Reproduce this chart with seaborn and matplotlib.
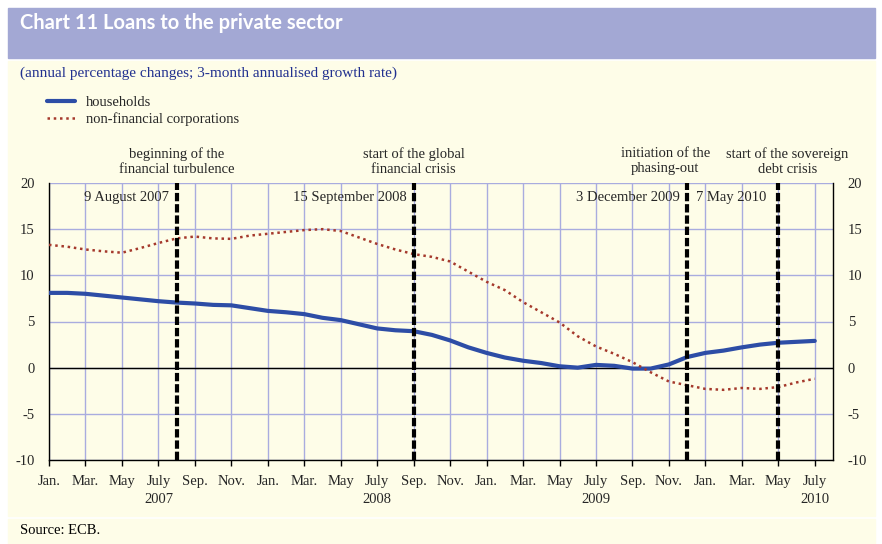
import pandas as pd
import numpy as np
import seaborn as sns
import matplotlib.pyplot as plt
from matplotlib.patches import Rectangle

# monthly observations, Jan 2007 - Jul 2010
months = pd.period_range('2007-01', '2010-07', freq='M')

households = [8.1, 8.1, 8.0, 7.8, 7.6, 7.4, 7.2, 7.05, 6.95, 6.8, 6.75, 6.45,
              6.15, 6.0, 5.8, 5.4, 5.15, 4.7, 4.25, 4.05, 3.95, 3.55, 2.95, 2.2,
              1.6, 1.1, 0.75, 0.5, 0.15, 0.0, 0.3, 0.2, -0.1, -0.1, 0.35, 1.15,
              1.6, 1.85, 2.2, 2.5, 2.7, 2.8, 2.9]
corporations = [13.3, 13.1, 12.8, 12.6, 12.45, 12.95, 13.5, 14.0, 14.2, 14.0, 13.95, 14.3,
                14.5, 14.7, 14.9, 15.0, 14.8, 14.1, 13.4, 12.8, 12.3, 12.0, 11.5, 10.4,
                9.3, 8.4, 7.1, 6.0, 4.9, 3.4, 2.3, 1.5, 0.6, -0.5, -1.5, -1.9,
                -2.3, -2.4, -2.2, -2.3, -2.1, -1.6, -1.2]

events = ['2007-08', '2008-09', '2009-12', '2010-05']
event_dates = ['9 August 2007', '15 September 2008', '3 December 2009', '7 May 2010']
event_titles = ['beginning of the\nfinancial turbulence', 'start of the global\nfinancial crisis',
                'initiation of the\nphasing-out', 'start of the sovereign\ndebt crisis']

month_names = ['Jan.', 'Mar.', 'May', 'July', 'Sep.', 'Nov.']
years = [2007, 2008, 2009, 2010]

t0 = months[0]
df = pd.DataFrame({'t': [(m - t0).n for m in months],
                   'households': households,
                   'non-financial corporations': corporations})
event_x = [(pd.Period(e, freq='M') - t0).n for e in events]

cream = '#fefde8'
lavender = '#a3a8d4'
grid_col = '#a9acdf'
blue = '#2d4da6'
red = '#a5392c'

sns.set_style('white')
plt.rcParams['font.family'] = ['Liberation Serif', 'DejaVu Serif']

fig = plt.figure(figsize=(8.82, 5.44), dpi=100)
W, H = 882, 544
def fx(px): return px / W
def fy(py): return 1 - py / H

fig.add_artist(Rectangle((fx(8), fy(58)), 867 / W, 50 / H, transform=fig.transFigure,
                         color=lavender, zorder=0))
fig.add_artist(Rectangle((fx(8), fy(516)), 867 / W, 455 / H, transform=fig.transFigure,
                         color=cream, zorder=0))
fig.add_artist(Rectangle((fx(8), fy(544)), 867 / W, 25 / H, transform=fig.transFigure,
                         color=cream, zorder=0))

fig.text(fx(20), fy(23), 'Chart 11 Loans to the private sector', color='white',
         fontsize=14.5, fontweight='bold', family=['Lato', 'DejaVu Sans'], va='center')
fig.text(fx(20), fy(73), '(annual percentage changes; 3-month annualised growth rate)',
         color='#22318f', fontsize=11, va='center')
fig.text(fx(20), fy(531), 'Source: ECB.', color='black', fontsize=10.5, va='center')

ax = fig.add_axes([fx(49), fy(460), (833 - 49) / W, (460 - 183) / H])
ax.set_facecolor('none')

sns.lineplot(data=df, x='t', y='households', ax=ax, color=blue, lw=3,
             label='households', zorder=3)
sns.lineplot(data=df, x='t', y='non-financial corporations', ax=ax, color=red, lw=1.8,
             linestyle=(0, (1, 1.5)), label='non-financial corporations', zorder=3)

ax.set_xlim(0, 43)
ax.set_ylim(-10, 20)
ax.set_xlabel('')
ax.set_ylabel('')

xt = list(range(0, 43, 2))
labels = []
for t in xt:
    name = month_names[(t % 12) // 2]
    if t % 12 == 6:
        name += '\n%d' % years[t // 12]
    labels.append(name)
ax.set_xticks(xt)
ax.set_xticklabels(labels, fontsize=10.5, va='top', linespacing=1.55)
ax.set_xticks([0, 12, 24, 36], minor=True)
ax.set_yticks(range(-10, 21, 5))
ax.set_yticklabels([str(v) for v in range(-10, 21, 5)], fontsize=10.5)
ax.tick_params(axis='x', which='major', direction='out', length=4, width=1, color='black', pad=6.5,
               bottom=True)
ax.tick_params(axis='x', which='minor', direction='out', length=8, width=1, color='black',
               bottom=True)
ax.tick_params(axis='y', left=False, right=False, labelleft=True, labelright=True, pad=7)

ax.grid(True, which='major', color=grid_col, lw=1)
ax.set_axisbelow(True)
ax.axhline(0, color='black', lw=1, zorder=2)
for s in ['left', 'right', 'bottom']:
    ax.spines[s].set_color('black')
    ax.spines[s].set_linewidth(1)
    ax.spines[s].set_visible(True)
ax.spines['top'].set_visible(False)

# event markers and their captions
title_shift = [0, 0, -1.2, 0.5]
for x, title, sh in zip(event_x, event_titles, title_shift):
    ax.axvline(x, color='black', lw=3, linestyle=(0, (2, 0.7)), zorder=4)
    ax.text(x + sh, 22.35, title, ha='center', va='center', fontsize=10.5, linespacing=1.2,
            clip_on=False)
for i, d in enumerate(event_dates):
    if i == 3:
        # right of the December 2009 line
        ax.text(event_x[2] + 0.5, 18.4, d, ha='left', va='center', fontsize=10.5)
    else:
        ax.text(event_x[i] - 0.4, 18.4, d, ha='right', va='center', fontsize=10.5)

ax.legend(loc='upper left', bbox_to_anchor=(fx(47), fy(96)), bbox_transform=fig.transFigure,
          frameon=False, fontsize=10.5, borderpad=0, borderaxespad=0, handlelength=1.9,
          handletextpad=0.8, labelspacing=0.2)

plt.savefig('out.png', dpi=100, facecolor='white')
